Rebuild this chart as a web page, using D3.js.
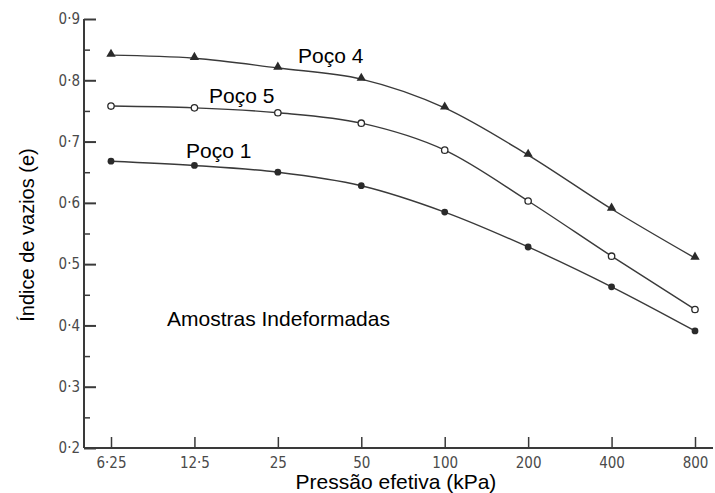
<!DOCTYPE html>
<html>
<head>
<meta charset="utf-8">
<script src="https://cdn.jsdelivr.net/npm/d3@7"></script>
<style>
  html, body { margin: 0; padding: 0; background: #fff; }
  svg { display: block; }
  .tick text { font-family: "DejaVu Sans Condensed", "DejaVu Sans", sans-serif; font-size: 15px; fill: #4a4a4a; }
  .lbl { font-family: "Liberation Sans", Arial, sans-serif; font-size: 21px; fill: #000; }
</style>
</head>
<body>
<svg id="chart" width="715" height="493"></svg>
<script>
// Effective pressure steps (kPa) and their printed labels
const pressures = [6.25, 12.5, 25, 50, 100, 200, 400, 800];
const pressureLabels = ["6·25", "12·5", "25", "50", "100", "200", "400", "800"];

// Void ratio (e) per well
const poco4 = [0.841, 0.836, 0.820, 0.802, 0.755, 0.678, 0.590, 0.510];
const poco5 = [0.758, 0.755, 0.747, 0.730, 0.686, 0.603, 0.513, 0.426];
const poco1 = [0.668, 0.661, 0.650, 0.628, 0.585, 0.528, 0.463, 0.391];

const yMajor = [0.2, 0.3, 0.4, 0.5, 0.6, 0.7, 0.8, 0.9];
const yMinor = [0.25, 0.35, 0.45, 0.55, 0.65, 0.75, 0.85];

const svg = d3.select("#chart");
const W = 715, H = 493;
const axisX = 84;

const x = d3.scaleLog().base(2).domain([6.25, 800]).range([111, 695]);
const y = d3.scaleLinear().domain([0.2, 0.9]).range([448, 19]);

const ink = "#3a3a3a";

// Y axis: inward major and minor ticks
const yAxisG = svg.append("g").attr("transform", `translate(${axisX},0)`);
yAxisG.call(d3.axisLeft(y).tickValues(yMajor).tickSize(-12).tickSizeOuter(0).tickPadding(4)
  .tickFormat(d => d3.format(".1f")(d).replace(".", "·")));
yAxisG.select(".domain").remove();
yAxisG.selectAll(".tick line").attr("stroke", ink).attr("stroke-width", 2);

const yMinorG = svg.append("g").attr("transform", `translate(${axisX},0)`);
yMinorG.call(d3.axisLeft(y).tickValues(yMinor).tickSize(-6).tickSizeOuter(0).tickFormat(""));
yMinorG.select(".domain").remove();
yMinorG.selectAll(".tick line").attr("stroke", ink).attr("stroke-width", 1.5);

// X axis: upward ticks at each pressure step
const xAxisG = svg.append("g").attr("transform", `translate(0,${y(0.2)})`);
xAxisG.call(d3.axisBottom(x).tickValues(pressures).tickSize(-11).tickSizeOuter(0).tickPadding(9)
  .tickFormat((d, i) => pressureLabels[i]));
xAxisG.select(".domain").remove();
xAxisG.selectAll(".tick line").attr("stroke", ink).attr("stroke-width", 1.5);

// Axis lines
svg.append("line").attr("x1", axisX).attr("x2", axisX).attr("y1", y(0.9)).attr("y2", y(0.2))
  .attr("stroke", ink).attr("stroke-width", 2);
svg.append("line").attr("x1", axisX).attr("x2", W - 2).attr("y1", y(0.2)).attr("y2", y(0.2))
  .attr("stroke", ink).attr("stroke-width", 2);

// Compression curves
const series = [
  { name: "Poço 4", values: poco4, marker: "triangle" },
  { name: "Poço 5", values: poco5, marker: "open" },
  { name: "Poço 1", values: poco1, marker: "filled" }
];

const line = d3.line()
  .x(d => x(d.p))
  .y(d => y(d.e))
  .curve(d3.curveMonotoneX);

series.forEach(s => {
  const pts = pressures.map((p, i) => ({ p, e: s.values[i] }));
  svg.append("path").datum(pts).attr("d", line)
    .attr("fill", "none").attr("stroke", ink).attr("stroke-width", 1.4);

  const g = svg.append("g");
  if (s.marker === "triangle") {
    g.selectAll("path").data(pts).join("path")
      .attr("d", d3.symbol(d3.symbolTriangle, 38))
      .attr("transform", d => `translate(${x(d.p)},${y(d.e) - 1})`)
      .attr("fill", "#2a2a2a");
  } else if (s.marker === "open") {
    g.selectAll("circle").data(pts).join("circle")
      .attr("cx", d => x(d.p)).attr("cy", d => y(d.e)).attr("r", 3.2)
      .attr("fill", "#fff").attr("stroke", "#2a2a2a").attr("stroke-width", 1.3);
  } else {
    g.selectAll("circle").data(pts).join("circle")
      .attr("cx", d => x(d.p)).attr("cy", d => y(d.e)).attr("r", 3.4)
      .attr("fill", "#2a2a2a");
  }
});

// Series and annotation labels
svg.append("text").attr("class", "lbl").attr("x", 298).attr("y", 63).text("Poço 4");
svg.append("text").attr("class", "lbl").attr("x", 209).attr("y", 103).text("Poço 5");
svg.append("text").attr("class", "lbl").attr("x", 186).attr("y", 158).text("Poço 1");
svg.append("text").attr("class", "lbl").attr("x", 167).attr("y", 326).text("Amostras Indeformadas");

// Axis titles
svg.append("text").attr("class", "lbl").attr("x", 396).attr("y", 489)
  .attr("text-anchor", "middle").text("Pressão efetiva (kPa)");
svg.append("text").attr("class", "lbl").style("font-size", "20px")
  .attr("transform", "translate(34,235) rotate(-90)")
  .attr("text-anchor", "middle").text("Índice de vazios (e)");
</script>
</body>
</html>
